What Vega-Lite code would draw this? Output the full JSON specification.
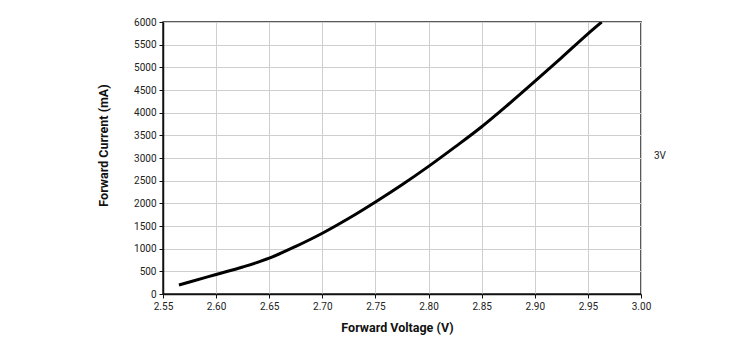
{
  "$schema": "https://vega.github.io/schema/vega-lite/v6.json",
  "autosize": "none",
  "width": 478,
  "height": 272,
  "padding": {"left": 163, "top": 22, "right": 109, "bottom": 56},
  "background": "white",
  "config": {
    "font": "Roboto",
    "view": {"stroke": "#222222", "strokeWidth": 1.5},
    "axis": {
      "labelFont": "Roboto",
      "labelFontSize": 10,
      "labelColor": "#222222",
      "labelFlush": false,
      "titleFont": "Roboto",
      "titleFontSize": 12.5,
      "titleFontWeight": "bold",
      "titleColor": "#111111",
      "gridColor": "#cfcfcf",
      "gridWidth": 1,
      "domainColor": "#111111",
      "domainWidth": 1.5,
      "tickColor": "#111111",
      "tickSize": 4,
      "labelPadding": 3
    }
  },
  "data": {
    "values": [
      {"v": 2.565, "i": 200, "s": "3V"},
      {"v": 2.575, "i": 265, "s": "3V"},
      {"v": 2.6, "i": 430, "s": "3V"},
      {"v": 2.625, "i": 595, "s": "3V"},
      {"v": 2.65, "i": 790, "s": "3V"},
      {"v": 2.675, "i": 1050, "s": "3V"},
      {"v": 2.7, "i": 1340, "s": "3V"},
      {"v": 2.725, "i": 1670, "s": "3V"},
      {"v": 2.75, "i": 2030, "s": "3V"},
      {"v": 2.775, "i": 2410, "s": "3V"},
      {"v": 2.8, "i": 2815, "s": "3V"},
      {"v": 2.825, "i": 3245, "s": "3V"},
      {"v": 2.85, "i": 3690, "s": "3V"},
      {"v": 2.875, "i": 4180, "s": "3V"},
      {"v": 2.9, "i": 4690, "s": "3V"},
      {"v": 2.925, "i": 5210, "s": "3V"},
      {"v": 2.95, "i": 5740, "s": "3V"},
      {"v": 2.963, "i": 6000, "s": "3V"}
    ]
  },
  "mark": {"type": "line", "strokeWidth": 3, "interpolate": "monotone", "clip": true},
  "encoding": {
    "x": {
      "field": "v",
      "type": "quantitative",
      "scale": {"domain": [2.55, 3.0], "nice": false, "zero": false},
      "axis": {
        "title": "Forward Voltage (V)",
        "values": [2.55, 2.6, 2.65, 2.7, 2.75, 2.8, 2.85, 2.9, 2.95, 3.0],
        "format": ".2f",
        "titlePadding": 10,
        "titleX": 234
      }
    },
    "y": {
      "field": "i",
      "type": "quantitative",
      "scale": {"domain": [0, 6000], "nice": false},
      "axis": {
        "title": "Forward Current (mA)",
        "values": [0, 500, 1000, 1500, 2000, 2500, 3000, 3500, 4000, 4500, 5000, 5500, 6000],
        "format": "d",
        "titlePadding": 23,
        "titleY": 123
      }
    },
    "color": {
      "field": "s",
      "type": "nominal",
      "scale": {"range": ["#000000"]},
      "legend": {
        "title": null,
        "orient": "none",
        "legendX": 481,
        "legendY": 129,
        "symbolOpacity": 0,
        "symbolSize": 0,
        "symbolStrokeWidth": 0,
        "labelFont": "Roboto",
        "labelFontSize": 10,
        "labelColor": "#222222",
        "labelOffset": 0
      }
    }
  }
}
